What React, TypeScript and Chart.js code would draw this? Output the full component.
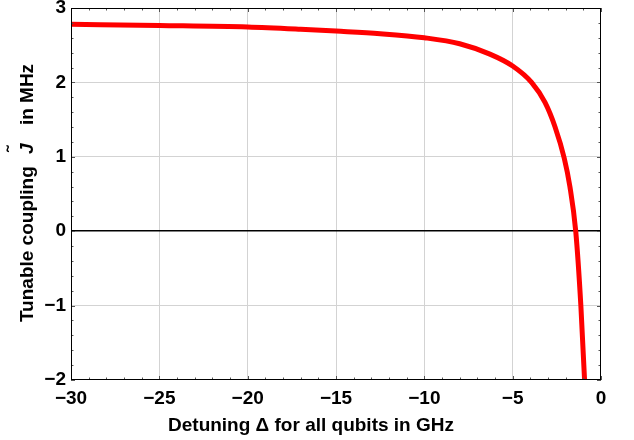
import React, { useEffect, useRef } from "react";
import { Chart, registerables } from "chart.js";

Chart.register(...registerables);

const detuning = [-30, -25, -20, -17, -15, -12.5, -10, -8, -6.29, -5, -3.93, -3.17, -2.6, -2.08, -1.76, -1.43, -1.14, -0.93, -0.88];
const coupling = [2.78, 2.765, 2.745, 2.715, 2.69, 2.655, 2.6, 2.52, 2.38, 2.22, 2.0, 1.73, 1.4, 0.98, 0.6, 0.0, -1.0, -2.0, -2.3];

const xMajorTicks = [-30, -25, -20, -15, -10, -5, 0];
const yMajorTicks = [-2, -1, 0, 1, 2, 3];
const xMinorStep = 1;
const yMinorStep = 0.2;

const xTitle = "Detuning Δ for all qubits in GHz";
const yTitleParts = ["Tunable coupling ", "J", " in MHz"];

const FONT = "'Liberation Sans', Arial, sans-serif";

const framePlugin = {
  id: "framePlugin",
  afterDatasetsDraw(chart: any) {
    const { ctx, chartArea } = chart;
    const xs = chart.scales.x;
    const ys = chart.scales.y;
    const { left, right, top, bottom } = chartArea;
    ctx.save();
    ctx.strokeStyle = "#555";
    ctx.lineWidth = 1;
    const xMin = xMajorTicks[0];
    const xMax = xMajorTicks[xMajorTicks.length - 1];
    for (let v = xMin; v <= xMax + 1e-9; v += xMinorStep) {
      const major = xMajorTicks.some((t) => Math.abs(t - v) < 1e-6);
      const len = major ? 4 : 2.5;
      const px = Math.round(xs.getPixelForValue(v)) + 0.5;
      ctx.beginPath();
      ctx.moveTo(px, bottom);
      ctx.lineTo(px, bottom - len);
      ctx.moveTo(px, top);
      ctx.lineTo(px, top + len);
      ctx.stroke();
    }
    const yMin = yMajorTicks[0];
    const yMax = yMajorTicks[yMajorTicks.length - 1];
    for (let i = 0; yMin + i * yMinorStep <= yMax + 1e-9; i++) {
      const v = yMin + i * yMinorStep;
      const major = yMajorTicks.some((t) => Math.abs(t - v) < 1e-6);
      const len = major ? 4 : 2.5;
      const py = Math.round(ys.getPixelForValue(v)) + 0.5;
      ctx.beginPath();
      ctx.moveTo(left, py);
      ctx.lineTo(left + len, py);
      ctx.moveTo(right, py);
      ctx.lineTo(right - len, py);
      ctx.stroke();
    }
    ctx.strokeStyle = "#000";
    ctx.lineWidth = 1;
    ctx.strokeRect(left + 0.5, top + 0.5, right - left - 1, bottom - top - 1);

    ctx.fillStyle = "#000";
    ctx.font = `bold 19px ${FONT}`;
    ctx.textAlign = "center";
    ctx.textBaseline = "alphabetic";
    ctx.fillText(xTitle, 311, 430.5);

    ctx.save();
    ctx.translate(33, 193);
    ctx.rotate(-Math.PI / 2);
    ctx.textAlign = "left";
    const fonts = [`bold 19px ${FONT}`, `bold italic 19px ${FONT}`, `bold 19px ${FONT}`];
    const gapBefore = 7;
    const gapAfter = 13;
    const widths = yTitleParts.map((p, i) => {
      ctx.font = fonts[i];
      return ctx.measureText(p).width;
    });
    const total = widths.reduce((a, b) => a + b, 0) + gapBefore + gapAfter;
    let cx = -total / 2;
    yTitleParts.forEach((p, i) => {
      if (i === 1) cx += gapBefore;
      ctx.font = fonts[i];
      ctx.fillText(p, cx, 0);
      if (i === 1) {
        ctx.font = `bold 19px ${FONT}`;
        ctx.fillText("˜", cx + 2, -13);
        cx += gapAfter;
      }
      cx += widths[i];
    });
    ctx.restore();
    ctx.restore();
  },
};

export default function App() {
  const ref = useRef<HTMLCanvasElement | null>(null);
  useEffect(() => {
    if (!ref.current) return;
    const chart = new Chart(ref.current, {
      type: "line",
      data: {
        datasets: [
          {
            data: detuning.map((x, i) => ({ x, y: coupling[i] })),
            borderColor: "#ff0000",
            borderWidth: 5,
            pointRadius: 0,
            cubicInterpolationMode: "monotone",
            fill: false,
          },
        ],
      },
      options: {
        animation: false,
        responsive: false,
        maintainAspectRatio: false,
        layout: { padding: { top: 8, right: 33, left: 0, bottom: 0 } },
        plugins: { legend: { display: false }, tooltip: { enabled: false } },
        scales: {
          x: {
            type: "linear",
            min: -30,
            max: 0,
            afterBuildTicks: (s: any) => {
              s.ticks = xMajorTicks.map((v) => ({ value: v }));
            },
            afterFit: (s: any) => {
              s.height = 60;
              s.paddingLeft = 0;
              s.paddingRight = 0;
            },
            border: { display: false },
            grid: {
              drawTicks: false,
              color: (c: any) =>
                c.tick && (c.tick.value === -30 || c.tick.value === 0) ? "rgba(0,0,0,0)" : "#d3d3d3",
              lineWidth: 1,
            },
            ticks: {
              padding: 7,
              color: "#000",
              font: { family: FONT, size: 19, weight: "bold" },
              callback: (v: any) => (v < 0 ? "\u2212" + Math.abs(v) : String(v)),
              maxRotation: 0,
              autoSkip: false,
            },
          },
          y: {
            type: "linear",
            min: -2,
            max: 3,
            afterBuildTicks: (s: any) => {
              s.ticks = yMajorTicks.map((v) => ({ value: v }));
            },
            afterFit: (s: any) => {
              s.width = 71;
              s.paddingTop = 0;
              s.paddingBottom = 0;
            },
            border: { display: false },
            grid: {
              drawTicks: false,
              color: (c: any) => {
                const v = c.tick ? c.tick.value : null;
                if (v === 3 || v === -2) return "rgba(0,0,0,0)";
                if (v === 0) return "#000";
                return "#d3d3d3";
              },
              lineWidth: (c: any) => (c.tick && c.tick.value === 0 ? 1.6 : 1),
            },
            ticks: {
              padding: 5,
              color: "#000",
              font: { family: FONT, size: 19, weight: "bold" },
              callback: (v: any) => (v < 0 ? "\u2212" + Math.abs(v) : String(v)),
              autoSkip: false,
            },
          },
        },
      },
      plugins: [framePlugin],
    } as any);
    return () => chart.destroy();
  }, []);
  return (
    <div style={{ position: "fixed", left: 0, top: 0, width: 634, height: 440, background: "#fff" }}>
      <canvas ref={ref} width={634} height={440} style={{ width: 634, height: 440 }} />
    </div>
  );
}
